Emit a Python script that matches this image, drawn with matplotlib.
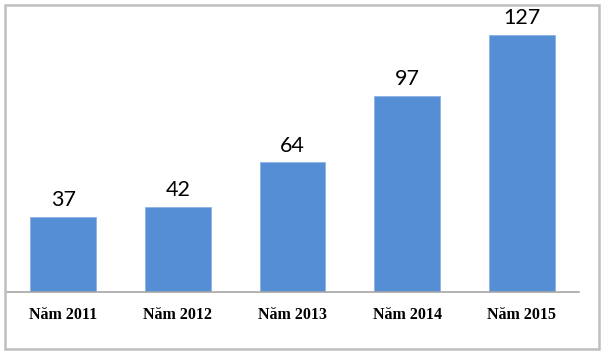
import matplotlib.pyplot as plt
from matplotlib.patches import Rectangle

categories = ["Năm 2011", "Năm 2012", "Năm 2013", "Năm 2014", "Năm 2015"]
values = [37, 42, 64, 97, 127]

W, H = 604, 351
fig = plt.figure(figsize=(W / 100, H / 100), dpi=100)

# outer chart border
fig.patches.append(
    Rectangle((4.5 / W, 2.5 / H), 594 / W, 344 / H, transform=fig.transFigure,
              fill=False, edgecolor="#BFBFBF", linewidth=1.8)
)

ax = fig.add_axes([6 / W, 1 - 292 / H, 573 / W, (292 - 8.6) / H])
x = range(len(categories))
bars = ax.bar(x, values, width=0.575, color="#558ED5", edgecolor="#8DB3E2", linewidth=0.6)

for xi, v in zip(x, values):
    ax.annotate(str(v), (xi, v), xytext=(0, 5), textcoords="offset points",
                ha="center", va="bottom", fontsize=15.5, family="Lato")

ax.set_xlim(-0.5, len(categories) - 0.5)
ax.set_ylim(0, 140)
ax.set_xticks(list(x))
ax.set_xticklabels(categories, family="Liberation Serif", fontweight="bold", fontsize=11.5)
ax.tick_params(axis="x", length=0, pad=11)
ax.set_yticks([])
for s in ["top", "left", "right"]:
    ax.spines[s].set_visible(False)
ax.spines["bottom"].set_color("#A6A6A6")
ax.spines["bottom"].set_linewidth(1.2)
ax.patch.set_alpha(0)

fig.savefig("out.png", dpi=100)
